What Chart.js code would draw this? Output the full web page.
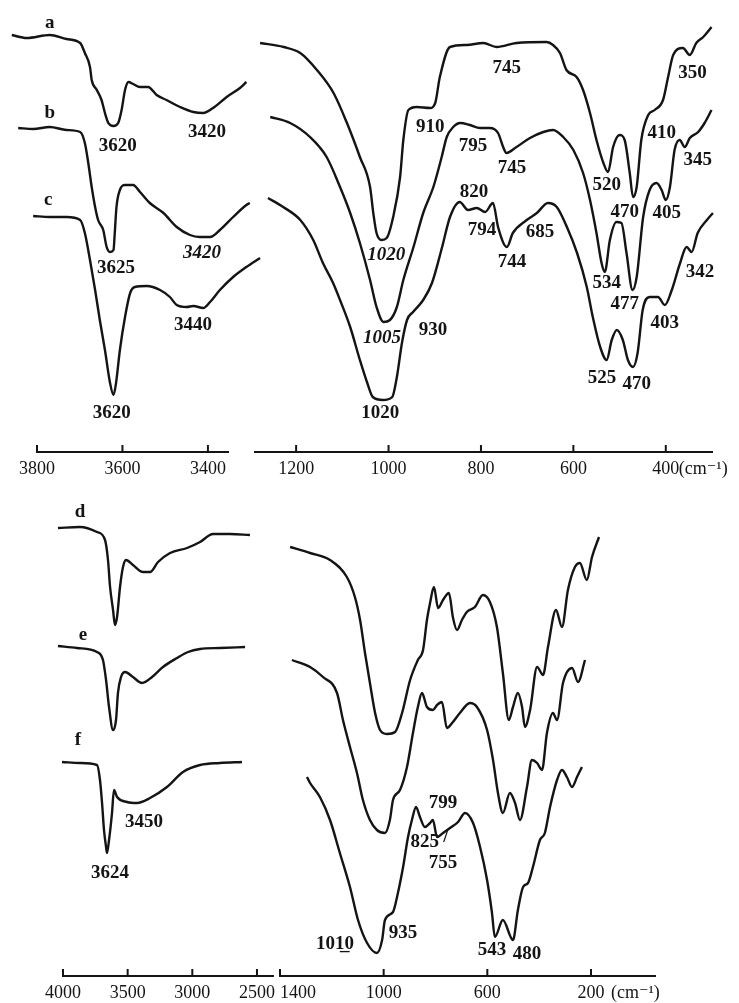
<!DOCTYPE html>
<html>
<head>
<meta charset="utf-8">
<script src="https://cdn.jsdelivr.net/npm/chart.js@4.4.1/dist/chart.umd.min.js"></script>
<style>
html,body{margin:0;padding:0;background:#fff;}
#wrap{position:relative;width:739px;height:1003px;background:#fff;overflow:hidden;}
#wrap canvas{position:absolute;left:0;top:0;}
</style>
</head>
<body>
<div id="wrap">
<canvas id="cTL" width="739" height="1003"></canvas>
<canvas id="cTR" width="739" height="1003"></canvas>
<canvas id="cBL" width="739" height="1003"></canvas>
<canvas id="cBR" width="739" height="1003"></canvas>
</div>
<script>
// ---------- tick labels (cm-1) ----------
const ticksTopOH = [3800, 3600, 3400];
const ticksTopLF = [1200, 1000, 800, 600, 400];
const ticksBotOH = [4000, 3500, 3000, 2500];
const ticksBotLF = [1400, 1000, 600, 200];

// ---------- spectra a, b, c : O-H region (wavenumber, transmittance a.u.) ----------
const ohA_wn = [3859,3824,3770,3731,3699,3688,3676,3672,3660,3649,3641,3633,3621,3610,3602,3594,3586,3575,3559,3540,3520,3497,3465,3434,3411,3388,3356,3325,3310];
const ohA_T  = [417,414,417,413,409,399,385,372,362,352,339,329,326,329,342,362,370,368,365,365,357,352,345,340,339,344,355,364,370];
const ohB_wn = [3844,3809,3770,3731,3699,3688,3680,3672,3664,3657,3645,3637,3629,3621,3618,3614,3606,3594,3575,3559,3536,3504,3473,3442,3419,3395,3372,3341,3310,3302];
const ohB_T  = [324,323,325,322,320,309,289,265,245,232,222,205,200,202,219,245,262,267,267,260,249,239,225,217,215,215,222,235,247,249];
const ohC_wn = [3809,3770,3731,3699,3688,3676,3664,3653,3641,3629,3621,3615,3606,3594,3582,3571,3543,3512,3489,3473,3450,3434,3411,3395,3372,3341,3310,3278];
const ohC_T  = [236,235,235,232,219,192,162,132,102,69,57,69,102,135,159,165,166,162,155,147,145,146,144,150,162,175,185,194];

// ---------- spectra a, b, c : low-frequency region ----------
const lfA_wn = [1278,1227,1191,1155,1119,1090,1062,1040,1033,1026,1015,1004,990,975,968,957,939,910,899,889,867,831,795,766,723,658,644,629,615,593,579,564,550,535,525,514,500,489,478,471,463,453,438,424,406,395,384,363,348,334,319,301];
const lfA_T  = [409,405,399,382,359,329,295,265,239,219,212,214,235,275,312,342,345,344,349,375,405,407,409,405,409,410,407,399,382,375,362,339,312,289,280,305,317,312,279,255,265,312,337,342,352,375,397,404,397,409,415,425];
const lfB_wn = [1256,1213,1170,1134,1105,1083,1062,1040,1026,1011,997,982,968,946,925,903,885,874,860,845,824,802,781,763,752,745,723,694,665,644,622,600,579,564,550,539,532,521,507,496,485,472,463,449,435,420,409,400,391,381,370,359,348,330,316,301];
const lfB_T  = [335,329,315,295,265,239,209,172,145,130,132,145,172,205,239,265,295,315,325,329,327,324,324,319,305,299,305,314,320,322,315,302,279,252,219,189,180,212,230,229,199,162,175,235,262,269,262,252,265,302,312,305,314,320,329,342];
const lfC_wn = [1261,1228,1191,1163,1142,1120,1105,1083,1062,1046,1034,1012,992,982,971,960,947,925,906,884,867,846,828,809,791,774,763,744,731,701,679,655,636,614,592,571,558,542,528,517,506,493,482,471,461,450,435,417,402,387,369,355,344,331,311,298];
const lfC_T  = [254,245,232,212,189,169,152,125,92,69,55,52,55,75,109,132,140,152,169,205,235,250,242,244,240,249,225,205,219,232,239,249,245,225,199,165,135,105,92,112,122,112,92,85,99,142,155,155,147,162,189,205,200,219,232,239];

// ---------- spectra d, e, f : O-H region ----------
const ohD_wn = [4039,3869,3737,3675,3652,3636,3613,3598,3582,3559,3536,3513,3459,3381,3327,3265,3172,3041,2940,2840,2708,2554];
const ohD_T  = [448,449,444,436,416,389,366,351,359,389,409,416,411,404,404,414,423,428,434,442,442,441];
const ohE_wn = [4039,3892,3737,3691,3667,3644,3613,3590,3575,3551,3520,3459,3389,3311,3227,3118,3033,2940,2786,2592];
const ohE_T  = [330,328,324,316,296,269,246,256,283,299,304,299,293,299,309,318,324,327,328,329];
const ohF_wn = [4008,3869,3737,3714,3698,3683,3667,3660,3644,3621,3606,3582,3505,3428,3327,3196,3072,2940,2786,2616];
const ohF_T  = [214,213,211,196,173,146,129,123,136,163,186,179,174,173,178,189,204,211,213,214];

// ---------- spectra d, e, f : low-frequency region ----------
const lfD_wn = [1361,1284,1207,1142,1111,1091,1072,1053,1033,1014,987,956,929,898,868,848,833,821,806,790,771,748,733,717,698,679,648,617,590,563,540,517,501,482,466,455,435,408,385,366,335,312,289,262,243,216,196,169];
const lfD_T  = [429,423,416,399,379,356,323,293,263,246,242,244,263,296,316,326,356,373,389,368,376,383,359,346,356,364,369,381,374,349,303,256,269,283,269,249,266,309,301,329,366,349,386,409,413,396,419,439];
const lfE_wn = [1354,1284,1234,1180,1157,1130,1103,1080,1053,1026,995,976,964,937,910,887,868,852,833,810,794,775,756,736,706,667,640,601,578,559,540,513,493,474,447,428,408,389,370,347,331,308,273,250,223];
const lfE_T  = [316,309,299,283,256,229,203,176,156,146,143,156,176,186,209,243,269,283,269,266,271,274,248,253,263,273,269,246,216,183,163,183,173,156,189,216,213,206,243,263,256,293,308,294,316];
const lfF_wn = [1296,1284,1246,1207,1169,1130,1099,1064,1026,1006,995,964,945,925,906,891,875,860,841,821,810,794,771,744,713,686,655,628,601,582,571,540,501,482,462,443,424,397,378,358,331,312,293,273,254,235];
const lfF_T  = [199,193,179,156,123,89,56,33,23,36,56,64,83,109,139,156,169,159,149,153,156,139,143,148,154,163,153,129,96,63,39,56,36,66,89,93,109,136,143,169,196,206,199,189,199,209];

// ---------- peak / curve labels : [text, wavenumber, transmittance, style] ----------
const labelsTopOH = [
  ['a',3770,429],['b',3770,339],['c',3774,252],
  ['3620',3611,306],['3420',3402,320],['3625',3615,184],
  ['3420',3414,199,'italic'],['3440',3435,127],['3620',3625,39]
];
const labelsTopLF = [
  ['745',744,384],['910',910,325],['350',342,379],['410',409,319],
  ['795',817,306],['745',733,284],['520',528,267],['470',489,240],
  ['405',398,239],['345',331,292],['1020',1005,197,'italic'],['820',815,260],
  ['794',798,222],['744',733,190],['685',672,220],['534',528,169],
  ['477',489,148],['342',326,180],['403',402,129],['1005',1014,114,'italic'],
  ['930',904,122],['525',538,74],['470',463,68],['1020',1018,39]
];
const labelsBotOH = [
  ['d',3869,464],['e',3845,341],['f',3884,236],['3450',3374,154],['3624',3637,103]
];
const labelsBotLF = [
  ['799',771,173],['825',841,134],['/',760,139],['755',771,113],
  ['1010',1188,32],['_',1150,31],['935',925,43],['543',582,26],['480',447,22]
];

const INK = '#141414';
const FONT = "'Liberation Serif', 'DejaVu Serif', serif";

function pts(wn, t) { return wn.map((w, i) => ({x: w, y: t[i]})); }

const decor = {
  id: 'decor',
  afterDatasetsDraw(chart, args, opts) {
    const ctx = chart.ctx, xs = chart.scales.x, ys = chart.scales.y, area = chart.chartArea;
    ctx.save();
    ctx.strokeStyle = INK; ctx.lineWidth = 2;
    xs.ticks.forEach(t => {
      const px = xs.getPixelForValue(t.value);
      ctx.beginPath(); ctx.moveTo(px, area.bottom); ctx.lineTo(px, area.bottom - 7); ctx.stroke();
    });
    ctx.fillStyle = INK; ctx.textAlign = 'center'; ctx.textBaseline = 'middle';
    (opts.labels || []).forEach(([txt, wn, t, style]) => {
      ctx.font = (style === 'italic' ? 'italic ' : '') + 'bold 19px ' + FONT;
      ctx.fillText(txt, xs.getPixelForValue(wn), ys.getPixelForValue(t));
    });
    if (opts.unit) {
      ctx.font = '18px ' + FONT; ctx.textAlign = 'left';
      ctx.fillText(opts.unit.text, xs.getPixelForValue(opts.unit.value) + opts.unit.dx, area.bottom + opts.unit.dy);
    }
    ctx.restore();
  }
};

function makeChart(id, series, xmin, xmax, ymax, ticks, pad, scaleH, labels, unit, tickCb) {
  return new Chart(document.getElementById(id), {
    type: 'line',
    data: {
      datasets: series.map(([wn, t]) => ({
        data: pts(wn, t), borderColor: INK, borderWidth: 2.4, pointRadius: 0,
        fill: false, cubicInterpolationMode: 'monotone', clip: false
      }))
    },
    options: {
      responsive: false, animation: false, events: [],
      layout: {padding: pad},
      plugins: {legend: {display: false}, tooltip: {enabled: false}, decor: {labels, unit}},
      scales: {
        x: {
          type: 'linear', reverse: true, min: xmin, max: xmax,
          afterBuildTicks: s => { s.ticks = ticks.map(v => ({value: v})); },
          afterFit: s => { s.height = scaleH; },
          grid: {display: false, drawTicks: false},
          border: {display: true, color: INK, width: 2},
          ticks: {autoSkip: false, maxRotation: 0, padding: 6, color: INK,
                  font: {family: FONT, size: 18}, callback: tickCb || (v => String(v))}
        },
        y: {type: 'linear', display: false, min: 0, max: ymax}
      }
    },
    plugins: [decor]
  });
}

makeChart('cTL', [[ohA_wn, ohA_T], [ohB_wn, ohB_T], [ohC_wn, ohC_T]],
  3353, 3800, 452, ticksTopOH, {left: 37, right: 511, top: 0, bottom: 521}, 30, labelsTopOH, null);
makeChart('cTR', [[lfA_wn, lfA_T], [lfB_wn, lfB_T], [lfC_wn, lfC_T]],
  300, 1289, 452, ticksTopLF, {left: 255, right: 27, top: 0, bottom: 521}, 30, labelsTopLF,
  {value: 400, text: '(cm\u207B\u00B9)', dx: 13, dy: 17});
makeChart('cBL', [[ohD_wn, ohD_T], [ohE_wn, ohE_T], [ohF_wn, ohF_T]],
  2376, 4000, 486, ticksBotOH, {left: 63, right: 466, top: 490, bottom: 2}, 25, labelsBotOH, null);
makeChart('cBR', [[lfD_wn, lfD_T], [lfE_wn, lfE_T], [lfF_wn, lfF_T]],
  -47, 1400, 486, ticksBotLF, {left: 280, right: 84, top: 490, bottom: 2}, 25, labelsBotLF,
  {value: 200, text: '(cm\u207B\u00B9)', dx: 20, dy: 17},
  v => v === 1400 ? '\u2002\u2002\u2002\u20021400' : String(v));
</script>
</body>
</html>
